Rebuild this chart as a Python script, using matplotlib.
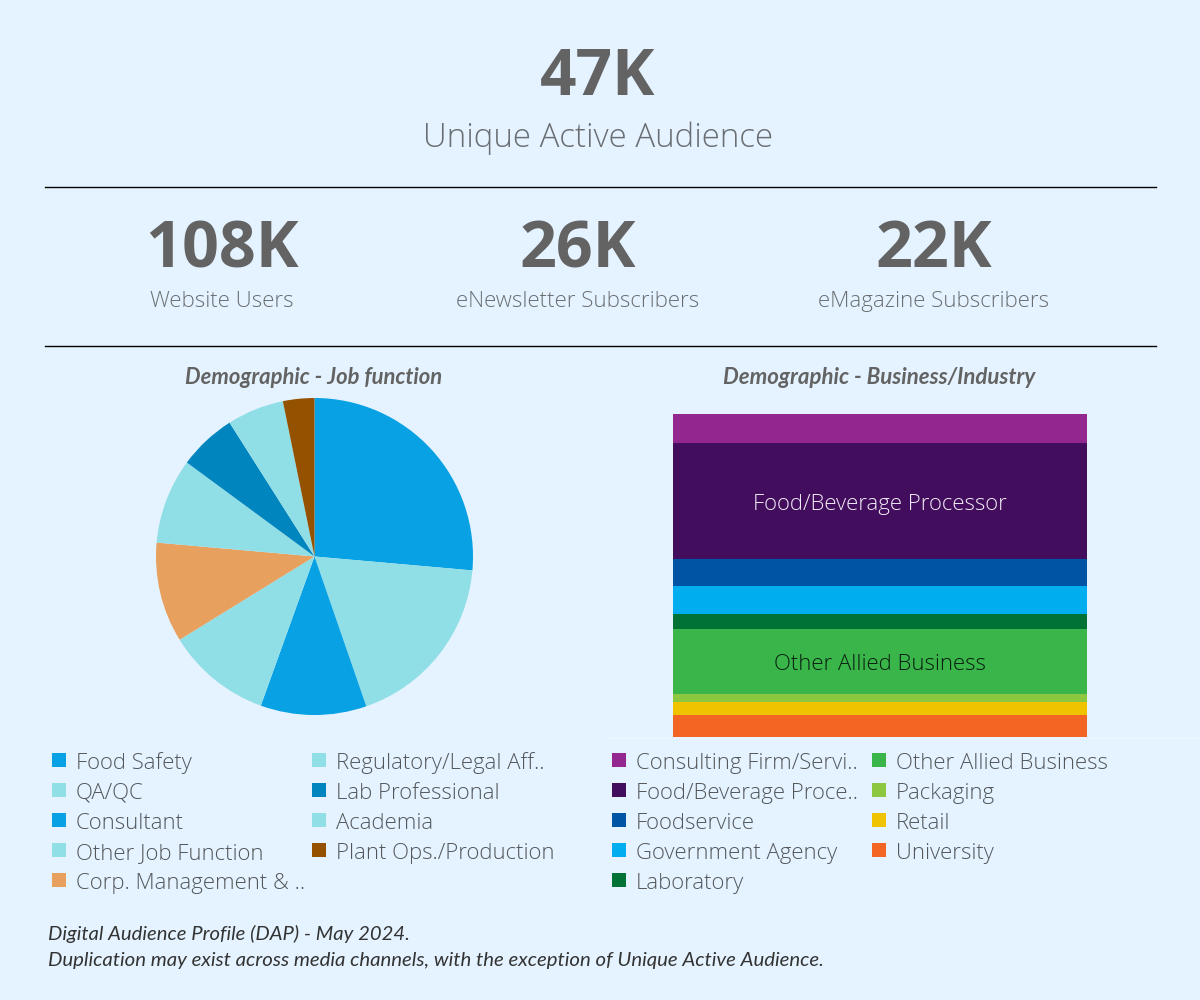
import matplotlib
matplotlib.use("Agg")
import matplotlib.pyplot as plt
from matplotlib.patches import Rectangle

BG = "#E4F3FF"
GREY = "#636363"
SOFT = "#6A6E72"
W, H = 1200, 1000

# ---------------------------------------------------------------------------
# DATA
# ---------------------------------------------------------------------------
job_labels = ["Food Safety", "QA/QC", "Consultant", "Other Job Function", "Corp. Management & ..",
              "Regulatory/Legal Aff..", "Lab Professional", "Academia", "Plant Ops./Production"]
job_values = [26.4, 18.3, 10.8, 10.7, 10.2, 8.7, 5.9, 5.8, 3.2]
job_colors = ["#07A1E4", "#91DFE6", "#07A1E4", "#91DFE6", "#E8A05E",
              "#91DFE6", "#0085BF", "#91DFE6", "#945200"]

biz_labels = ["Consulting Firm/Servi..", "Food/Beverage Proce..", "Foodservice", "Government Agency",
              "Laboratory", "Other Allied Business", "Packaging", "Retail", "University"]
biz_values = [29, 116, 27, 28, 15, 65, 8, 13, 22]
biz_colors = ["#93278F", "#430D5E", "#0054A4", "#00AEEF", "#007236",
              "#39B54A", "#8DC63F", "#F0C300", "#F26522"]

kpi_values = ["108K", "26K", "22K"]
kpi_labels = ["Website Users", "eNewsletter Subscribers", "eMagazine Subscribers"]
kpi_x = [222, 578, 934]

fig = plt.figure(figsize=(12, 10), dpi=100, facecolor=BG)

# overlay in pixel coordinates for the text, rules and legends
ov = fig.add_axes([0, 0, 1, 1])
ov.set_xlim(0, W)
ov.set_ylim(H, 0)
ov.axis("off")


def label(x, y, s, size, color=SOFT, ha="center", weight="light", style="normal", family="Open Sans"):
    # y is the text baseline, so rows line up whatever the letters are
    ov.text(x, y, s, fontsize=size, color=color, ha=ha, va="baseline",
            fontweight=weight, fontstyle=style, family=family)


# ---------------------------------------------------------------------------
# HEADER
# ---------------------------------------------------------------------------
label(598, 95, "47K", 46, GREY, weight="bold")
label(598, 147, "Unique Active Audience", 23.8)
for y in (187, 346):
    ov.plot([45, 1155.5], [y, y], color="black", lw=1)
for x, v, t in zip(kpi_x, kpi_values, kpi_labels):
    label(x, 267, v, 46.5, GREY, weight="bold")
    label(x, 307, t, 16)

label(314, 384, "Demographic - Job function", 15.8, GREY, weight="bold", style="italic", family="Lato")
label(879, 384, "Demographic - Business/Industry", 16, GREY, weight="bold", style="italic", family="Lato")

# ---------------------------------------------------------------------------
# PIE
# ---------------------------------------------------------------------------
cx, cy, r = 314.5, 556.5, 158.5
ax1 = fig.add_axes([(cx - r) / W, 1 - (cy + r) / H, 2 * r / W, 2 * r / H])
ax1.pie(job_values, colors=job_colors, startangle=90, counterclock=False, radius=1,
        wedgeprops={"linewidth": 0})
ax1.set_xlim(-1, 1)
ax1.set_ylim(-1, 1)

# ---------------------------------------------------------------------------
# STACKED BAR
# ---------------------------------------------------------------------------
top, bottom = 414, 737
ax2 = fig.add_axes([673 / W, 1 - bottom / H, 414 / W, (bottom - top) / H])
total = sum(biz_values)
running = total
for name, val, col in zip(biz_labels, biz_values, biz_colors):
    running -= val
    ax2.bar(0, val, bottom=running, width=1, color=col, linewidth=0)
    if val > 60:
        txt = "Food/Beverage Processor" if col == "#430D5E" else name
        ax2.text(0, running + val / 2 - 1, txt, ha="center", va="center_baseline", fontsize=15.9,
                 family="Open Sans", fontweight="light",
                 color="#F0EAF4" if col == "#430D5E" else "#0A2010")
ax2.set_xlim(-0.5, 0.5)
ax2.set_ylim(0, total)
ax2.axis("off")

ov.plot([605, 1200], [737.5, 737.5], color="#EEF7FF", lw=1)

# ---------------------------------------------------------------------------
# LEGENDS
# ---------------------------------------------------------------------------
legend_cols = [
    (52, 76, job_labels[:5], job_colors[:5]),
    (312, 336, job_labels[5:], job_colors[5:]),
    (612, 636, biz_labels[:5], biz_colors[:5]),
    (872, 896, biz_labels[5:], biz_colors[5:]),
]
for sx, tx, names, cols in legend_cols:
    for i, (n, c) in enumerate(zip(names, cols)):
        y = 769 + 30 * i
        ov.add_patch(Rectangle((sx, y - 16), 14, 14, facecolor=c, linewidth=0))
        label(tx, y, n, 15.9, "#53575B", ha="left")

# ---------------------------------------------------------------------------
# FOOTNOTE
# ---------------------------------------------------------------------------
label(48, 940, "Digital Audience Profile (DAP) - May 2024.", 14.6, "#333333", ha="left", weight="normal",
      style="italic", family="Lato")
label(48, 966, "Duplication may exist across media channels, with the exception of Unique Active Audience.", 14.7,
      "#333333", ha="left", weight="normal", style="italic", family="Lato")

fig.savefig("out.png", dpi=100, facecolor=BG)
